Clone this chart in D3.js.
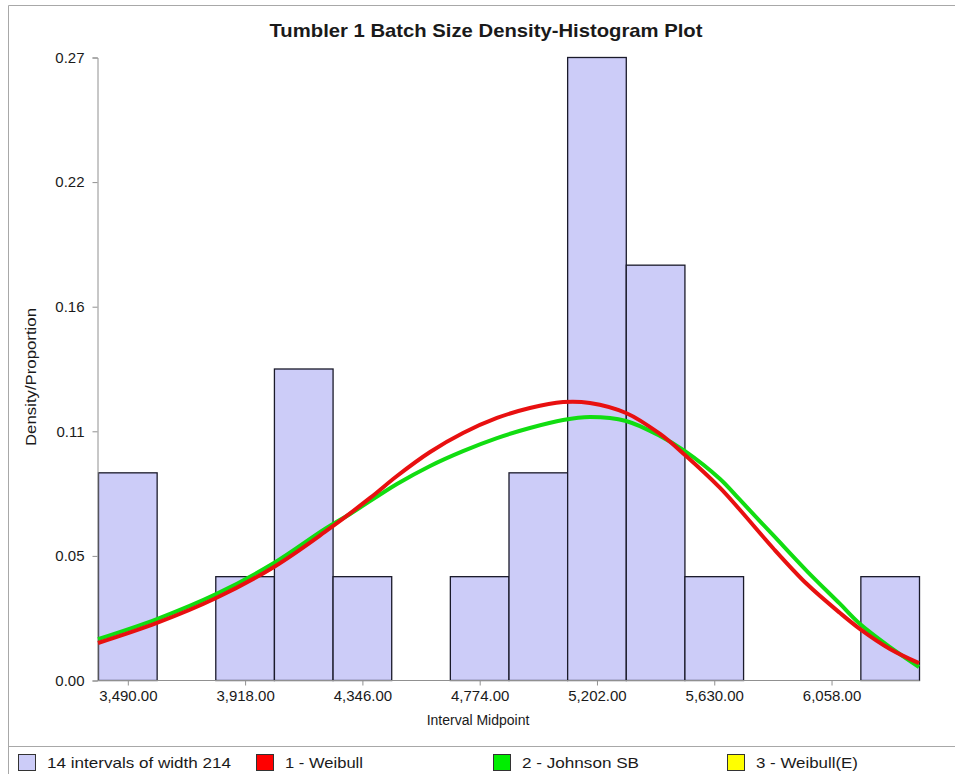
<!DOCTYPE html>
<html><head><meta charset="utf-8">
<script src="https://cdn.jsdelivr.net/npm/d3@7"></script>
<style>body{margin:0;background:#fff}svg{display:block}text{font-family:"Liberation Sans",Arial,sans-serif;fill:#1a1a1a}</style>
</head><body><svg id="c" width="955" height="774"></svg>
<script>
const title = "Tumbler 1 Batch Size Density-Histogram Plot";
const binStart = 3383, binWidth = 214;
const binCounts = [2,0,1,3,1,0,1,2,6,4,1,0,0,1];
const nObs = 22;
const xTicks = [3490,3918,4346,4774,5202,5630,6058];
const weibullX = [3383,3598,3814,4025,4211,4376,4474,4595,4715,4839,4959,5080,5178,5310,5434,5525,5653,5726,5846,5970,6091,6164,6273,6379];
const weibullY = [0.0162,0.0250,0.0359,0.0495,0.0648,0.0797,0.0893,0.0998,0.1081,0.1147,0.1191,0.1217,0.1213,0.1169,0.1077,0.0985,0.0841,0.0744,0.0578,0.0420,0.0293,0.0223,0.0136,0.0074];
const johnsonX = [3383,3598,3814,4025,4211,4303,4474,4595,4715,4839,4959,5080,5178,5310,5434,5525,5653,5726,5846,5970,6091,6164,6273,6379];
const johnsonY = [0.0179,0.0267,0.0376,0.0512,0.0661,0.0727,0.0858,0.0937,0.1002,0.1059,0.1103,0.1138,0.1151,0.1134,0.1068,0.1002,0.0880,0.0788,0.0635,0.0477,0.0333,0.0245,0.0144,0.0057];
const legendLabels = ["14 intervals of width 214","1 - Weibull","2 - Johnson SB","3 - Weibull(E)"];
const legendColors = ["#ccccf8","#ff0000","#00ee00","#ffff00"];

const svg = d3.select("#c");
const props = binCounts.map(c => c / nObs);
const yMax = d3.max(props);
const x = d3.scaleLinear().domain([binStart, binStart + binWidth * binCounts.length]).range([98, 919]);
const y = d3.scaleLinear().domain([0, yMax]).range([680, 57]);

// frame
svg.append("line").attr("x1",8.5).attr("x2",955).attr("y1",5.5).attr("y2",5.5).attr("stroke","#a8a8a8");
svg.append("line").attr("x1",8.5).attr("x2",8.5).attr("y1",5.5).attr("y2",774).attr("stroke","#a8a8a8");
svg.append("line").attr("x1",8.5).attr("x2",955).attr("y1",746.5).attr("y2",746.5).attr("stroke","#a8a8a8");

svg.append("text").attr("x",486).attr("y",37).attr("text-anchor","middle")
  .attr("textLength",433).attr("lengthAdjust","spacingAndGlyphs")
  .style("font-size","19px").style("font-weight","bold").text(title);

// bars
svg.append("g").selectAll("rect").data(props).join("rect")
  .attr("x",(d,i)=>x(binStart+i*binWidth)+0.5)
  .attr("width",(d,i)=>x(binStart+(i+1)*binWidth)-x(binStart+i*binWidth))
  .attr("y",d=>y(d)+0.5).attr("height",d=>y(0)-y(d))
  .attr("fill","#ccccf8").attr("stroke",d=>d>0?"#1a1a2a":"none").attr("stroke-width",1.3);

// axes
const yTicks = d3.range(6).map(i => yMax * i / 5);
const ya = svg.append("g").attr("transform","translate(97.5,0.5)")
  .call(d3.axisLeft(y).tickValues(yTicks).tickFormat(d3.format(".2f")).tickSize(5).tickPadding(8));
ya.select(".domain").attr("stroke","#909090");
ya.selectAll(".tick line").attr("stroke","#909090");
ya.selectAll("text").style("font-size","15px").style("font-family","Liberation Sans, Arial, sans-serif").attr("fill","#1a1a1a");

const xa = svg.append("g").attr("transform","translate(0.5,680.5)")
  .call(d3.axisBottom(x).tickValues(xTicks).tickFormat(d3.format(",.2f")).tickSize(5).tickPadding(5).tickSizeOuter(0));
xa.select(".domain").attr("stroke","#909090").attr("d","M97,0H919");
xa.selectAll(".tick line").attr("stroke","#909090");
xa.selectAll("text").style("font-size","15px").style("font-family","Liberation Sans, Arial, sans-serif").attr("fill","#1a1a1a");

svg.append("text").attr("x",478).attr("y",725).attr("text-anchor","middle").style("font-size","14px").text("Interval Midpoint");
svg.append("text").attr("transform","translate(36,377) rotate(-90)").attr("text-anchor","middle")
  .attr("textLength",138).attr("lengthAdjust","spacingAndGlyphs").style("font-size","15px").text("Density/Proportion");

// curves
const line = d3.line().x(d=>x(d[0])).y(d=>y(d[1])).curve(d3.curveCatmullRom.alpha(0.5));
svg.append("path").datum(johnsonX.map((v,i)=>[v,johnsonY[i]])).attr("d",line)
  .attr("fill","none").attr("stroke","#11dd11").attr("stroke-width",4);
svg.append("path").datum(weibullX.map((v,i)=>[v,weibullY[i]])).attr("d",line)
  .attr("fill","none").attr("stroke","#e81010").attr("stroke-width",4);

// legend
const lx = [18,256,493,727];
const lw = [184,78,117,102];
const lg = svg.append("g").selectAll("g").data(legendLabels).join("g")
  .attr("transform",(d,i)=>`translate(${lx[i]},754)`);
lg.append("rect").attr("x",0.5).attr("y",0.5).attr("width",17).attr("height",16)
  .attr("fill",(d,i)=>legendColors[i]).attr("stroke","#333");
lg.append("text").attr("x",29).attr("y",14).style("font-size","15px")
  .attr("textLength",(d,i)=>lw[i]).attr("lengthAdjust","spacingAndGlyphs").text(d=>d);
</script></body></html>
